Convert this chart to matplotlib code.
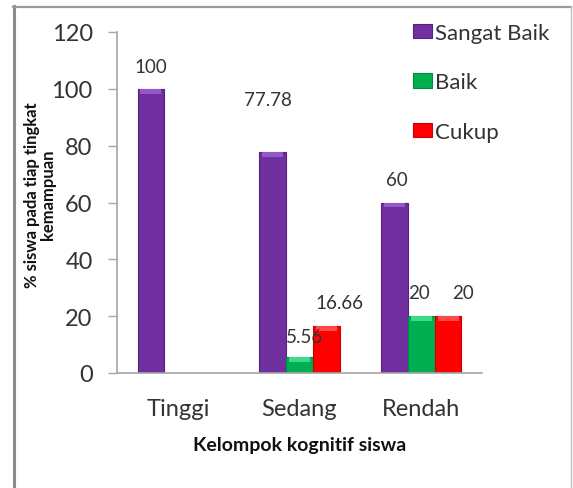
import numpy as np
import matplotlib
matplotlib.use("Agg")
import matplotlib.pyplot as plt
from matplotlib.lines import Line2D
from matplotlib.patches import Patch

plt.rcParams['font.family'] = ['Lato', 'DejaVu Sans']

# data
categories = ['Tinggi', 'Sedang', 'Rendah']
series_names = ['Sangat Baik', 'Baik', 'Cukup']
sangat_baik = [100, 77.78, 60]
baik = [0, 5.56, 20]
cukup = [0, 16.66, 20]
label_texts = [['100', '77.78', '60'],
               ['', '5.56', '20'],
               ['', '16.66', '20']]

# styling
colors = ['#7030A0', '#00B050', '#FF0000']
caps = ['#9457CC', '#40D88C', '#FF4A4A']
edges = ['#55207E', '#008A3C', '#C80000']
# label nudges in pixels (dx, dy) relative to bar top centre
nudges = [[(0, 22), (-5, 52), (3, 23)],
          [(0, 22), (5, 21), (-2, 24)],
          [(0, 22), (13, 23), (15, 24)]]

W, H = 573, 489
fig = plt.figure(figsize=(W / 100, H / 100), dpi=100)
ax = fig.add_axes([117 / W, 1 - 374 / H, (482 - 117) / W, (374 - 33) / H])

x = np.arange(len(categories))
bw = 0.221
all_vals = [sangat_baik, baik, cukup]
cap_units = 5 / 2.85  # ~5 px highlight at the top of each bar

for i, vals in enumerate(all_vals):
    xs = x + (i - 1) * bw
    ax.bar(xs, vals, width=bw, color=colors[i], edgecolor=edges[i],
           linewidth=0.8, zorder=2)
    v = np.array(vals, dtype=float)
    capv = np.minimum(cap_units, v)
    ax.bar(xs, capv, bottom=v - capv, width=bw * 0.78, color=caps[i],
           linewidth=0, zorder=3)
    for j, val in enumerate(vals):
        if label_texts[i][j]:
            ax.annotate(label_texts[i][j], (xs[j], val),
                        xytext=nudges[i][j], textcoords='offset pixels',
                        ha='center', va='center', fontsize=13.5,
                        color='#333333', zorder=5)

ax.set_xlim(-0.5, 2.5)
ax.set_ylim(0, 120)
ax.set_yticks(np.arange(0, 121, 20))
ax.set_xticks(x)
ax.set_xticklabels(categories)

for s in ['top', 'right']:
    ax.spines[s].set_visible(False)
for s in ['left', 'bottom']:
    ax.spines[s].set_color('#A6A6A6')
    ax.spines[s].set_linewidth(1.2)

ax.tick_params(axis='y', direction='out', length=6.5, width=1, color='#A6A6A6',
               labelsize=17, labelcolor='#333333', pad=11)
ax.tick_params(axis='x', length=0, labelsize=17, labelcolor='#333333', pad=18)

ax.set_xlabel('Kelompok kognitif siswa', fontsize=14, fontweight='bold',
              color='#111111', labelpad=12)

fig.text(40 / W, 1 - 195 / H, '% siswa pada tiap tingkat\nkemampuan',
         rotation=90, ha='center', va='center', multialignment='center',
         fontsize=12, fontweight='bold', color='#111111', linespacing=0.95)

handles = [Patch(facecolor=colors[i], edgecolor=edges[i], linewidth=0.8)
           for i in range(3)]
fig.legend(handles, series_names, loc='upper left',
           bbox_to_anchor=(413 / W, 1 - 24 / H), frameon=False,
           fontsize=16, labelcolor='#333333', handlelength=0.85,
           handleheight=0.62, handletextpad=0.15, labelspacing=1.32,
           borderaxespad=0, borderpad=0)

# outer frame of the picture
fig.add_artist(Line2D([13.5 / W, 13.5 / W], [0, 1 - 7 / H], color='#8C8C8C',
                      linewidth=2.2, transform=fig.transFigure))
fig.add_artist(Line2D([13 / W, 571 / W], [1 - 7.5 / H, 1 - 7.5 / H],
                      color='#9A9A9A', linewidth=1.6, transform=fig.transFigure))
fig.add_artist(Line2D([571 / W, 571 / W], [0, 1 - 7 / H], color='#C0C0C0',
                      linewidth=1, transform=fig.transFigure))

fig.savefig('out.png', dpi=100)
